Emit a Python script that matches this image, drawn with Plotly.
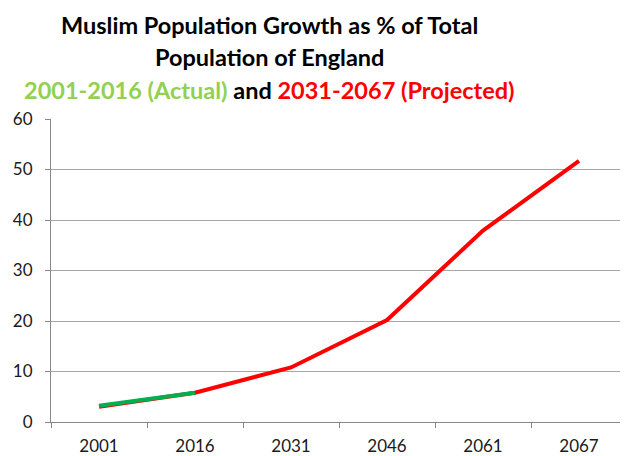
import plotly.graph_objects as go

years = ["2001", "2016", "2031", "2046", "2061", "2067"]
projected = [3.0, 5.8, 10.8, 20.2, 37.9, 51.7]
actual_years = ["2001", "2016"]
actual = [3.2, 5.8]
y_ticks = [0, 10, 20, 30, 40, 50, 60]

FONT = "Lato, Carlito, 'Open Sans', sans-serif"

fig = go.Figure()
fig.add_trace(go.Scatter(x=years, y=projected, mode="lines",
                         line=dict(color="#FF0000", width=4), showlegend=False))
fig.add_trace(go.Scatter(x=actual_years, y=actual, mode="lines",
                         line=dict(color="#00B050", width=4), showlegend=False))

# page body has an 8px margin; figure is sized/offset to compensate
W, H = 620, 448
L, R, T, B = 43, 1, 111, 34
pw = W - L - R
ph = H - T - B

def px_x(px):
    return (px - L) / pw

def px_y(py):
    return (H - B - py) / ph

title_lines = [
    ("<b>Muslim Population Growth as % of Total</b>", 17),
    ("<b>Population of England</b>", 49),
    ("<b><span style='color:#92D050'>2001-2016 (Actual)</span> and "
     "<span style='color:#FF0000'>2031-2067 (Projected)</span></b>", 82),
]
for text, yc in title_lines:
    fig.add_annotation(text=text, xref="paper", yref="paper",
                       x=px_x(261), y=px_y(yc),
                       xanchor="center", yanchor="middle", showarrow=False,
                       font=dict(family=FONT, size=23.5, color="black"))

fig.update_layout(
    width=W, height=H,
    margin=dict(l=L, r=R, t=T, b=B, pad=0, autoexpand=False),
    plot_bgcolor="white", paper_bgcolor="white",
    font=dict(family=FONT, size=17, color="#1a1a1a"),
)
fig.update_xaxes(type="category", range=[-0.5, 5.5], showgrid=False, showline=True,
                 linecolor="#888", linewidth=1, ticks="outside", tickson="boundaries",
                 ticklen=5, tickcolor="#888", ticklabelstandoff=9, automargin=False,
                 tickfont=dict(family=FONT, size=17, color="#1a1a1a"))
fig.update_yaxes(range=[0, 60], tickvals=y_ticks, showgrid=True, gridcolor="#a6a6a6",
                 gridwidth=1, showline=True, linecolor="#888", linewidth=1,
                 ticks="outside", ticklen=5, tickcolor="#888", zeroline=False,
                 ticklabelstandoff=9, automargin=False,
                 tickfont=dict(family=FONT, size=17, color="#1a1a1a"))

fig.write_html("out.html")
